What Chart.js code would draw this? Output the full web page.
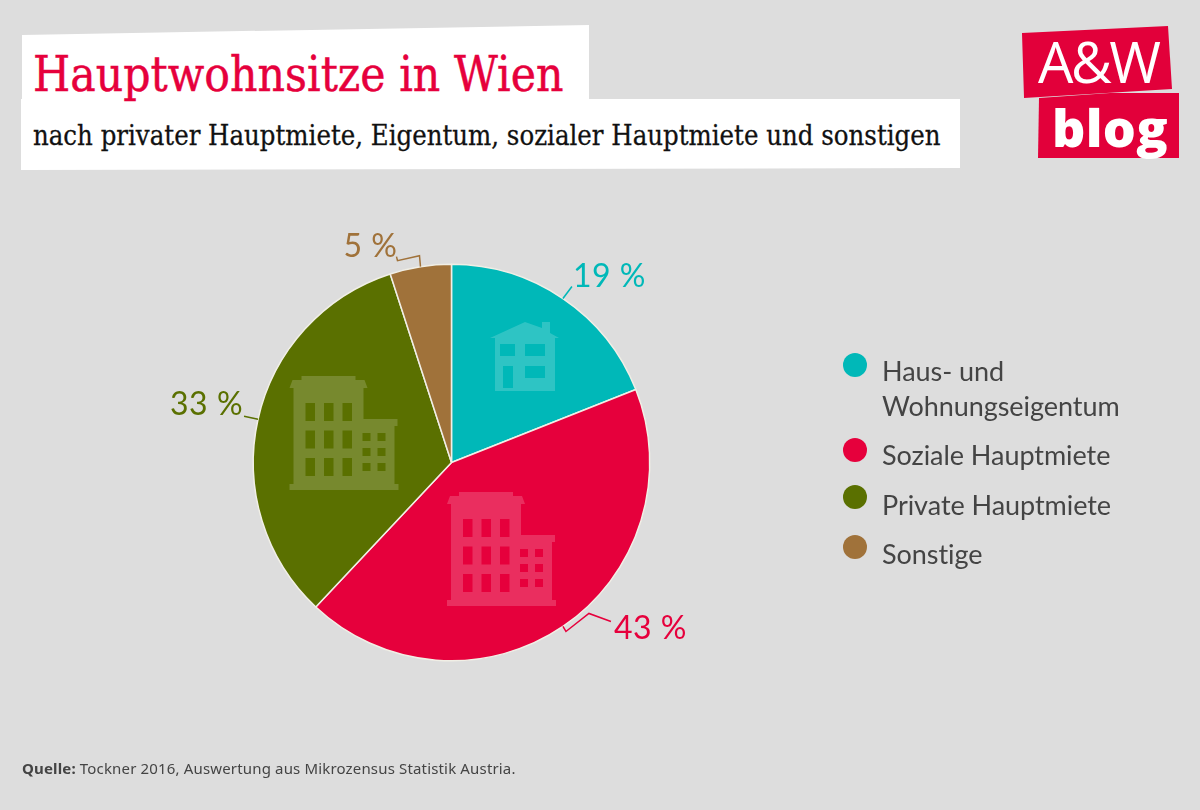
<!DOCTYPE html>
<html lang="de">
<head>
<meta charset="utf-8">
<title>Hauptwohnsitze in Wien</title>
<script src="https://cdn.jsdelivr.net/npm/chart.js@4/dist/chart.umd.min.js"></script>
<style>
  html, body { margin: 0; padding: 0; background: #dddddd; }
  #page { position: relative; width: 1200px; height: 810px; overflow: hidden; background: #dddddd; }
  #page > * { position: absolute; }
  canvas { left: 0; top: 0; }
  .box { background: #fff; }
  .title { white-space: nowrap; font-family: "DejaVu Serif", serif; transform-origin: 0 0; }
  #box1 { left: 0; top: 0; width: 600px; height: 110px; clip-path: polygon(22px 35px, 589px 25px, 589px 100px, 22px 100px); }
  #box2 { left: 0; top: 90px; width: 970px; height: 90px; clip-path: polygon(21px 9px, 960px 9px, 960px 78px, 21px 80px); }
  #title { left: 33px; top: 46px; font-size: 48px; color: #e6003c; transform: scaleX(0.89); -webkit-text-stroke: 0.5px #e6003c; }
  #subtitle { left: 33px; top: 120px; font-size: 27px; color: #111; transform: scaleX(0.907); -webkit-text-stroke: 0.3px #111; }
  .logo { background: #e2003a; }
  #logo1 { left: 1000px; top: 10px; width: 190px; height: 100px; clip-path: polygon(22px 23px, 168px 16px, 172px 79px, 24px 88px); }
  #logo2 { left: 1000px; top: 80px; width: 190px; height: 90px; clip-path: polygon(39px 18px, 110px 13px, 179px 13px, 179px 78px, 38px 78px); }
  .logotext { color: #fff; white-space: nowrap; font-family: "Open Sans", sans-serif; line-height: normal; }
  #logoA { left: 1038px; top: 23px; font-size: 56px; font-weight: 400; letter-spacing: -2.5px; }
  #logoB { left: 1052px; top: 91px; font-size: 52px; font-weight: 800; letter-spacing: 0.3px; }
  .lg-dot { width: 24px; height: 24px; border-radius: 50%; }
  .lg-text { left: 882px; font: 27px/35px "Lato", sans-serif; letter-spacing: -0.05px; color: #444; white-space: nowrap; }
  #source { left: 22px; top: 757px; font: 15px/22px "Noto Sans", sans-serif; letter-spacing: 0.16px; color: #444; white-space: nowrap; }
</style>
</head>
<body>
<div id="page">
  <div id="box1" class="box"></div>
  <div id="box2" class="box"></div>
  <div id="title" class="title">Hauptwohnsitze in Wien</div>
  <div id="subtitle" class="title">nach privater Hauptmiete, Eigentum, sozialer Hauptmiete und sonstigen</div>
  <div id="logo1" class="logo"></div>
  <div id="logo2" class="logo"></div>
  <div id="logoA" class="logotext">A&amp;W</div>
  <div id="logoB" class="logotext">blog</div>
  <canvas id="chart" width="1200" height="810"></canvas>
  <div id="source"><b>Quelle:</b> Tockner 2016, Auswertung aus Mikrozensus Statistik Austria.</div>
</div>
<script>
// Data
const categories = [["Haus- und", "Wohnungseigentum"], ["Soziale Hauptmiete"], ["Private Hauptmiete"], ["Sonstige"]];
const shares = [19, 43, 33, 5];
const colors = ["#00b8b8", "#e6003c", "#5a7000", "#a0723a"];

// Leader lines, relative to the point where each slice's mid angle meets the rim
const leaders = [
  [[9, -12]],
  [[3, 5], [26, -13], [48, -5]],
  [[-14, -3]],
  [[-1, -11], [-23, -6], [-24, -10]],
];
// Label baseline position, relative to the same point
const labelOffsets = [[10, -12], [51, 13], [-15, -4], [-23, -10]];
const labelAlign = ["left", "left", "right", "right"];

// Legend layout
const legendDotY = [365, 450, 497, 547];
const legendTextTop = [353, 437, 487, 536];

const iconFill = "rgba(255,255,255,0.18)";

function buildingPath(ctx, x, y) {
  const rect = (l, t, w, h) => ctx.rect(x + l, y + t, w, h);
  ctx.beginPath();
  ctx.moveTo(x + 12, y);
  ctx.lineTo(x + 66, y);
  ctx.lineTo(x + 66, y + 4);
  ctx.lineTo(x + 75, y + 4);
  ctx.lineTo(x + 78, y + 12);
  ctx.lineTo(x + 74, y + 12);
  ctx.lineTo(x + 74, y + 43);
  ctx.lineTo(x + 108, y + 43);
  ctx.lineTo(x + 108, y + 50);
  ctx.lineTo(x + 105, y + 50);
  ctx.lineTo(x + 105, y + 108);
  ctx.lineTo(x + 109, y + 108);
  ctx.lineTo(x + 109, y + 114);
  ctx.lineTo(x, y + 114);
  ctx.lineTo(x, y + 108);
  ctx.lineTo(x + 4, y + 108);
  ctx.lineTo(x + 4, y + 12);
  ctx.lineTo(x, y + 12);
  ctx.lineTo(x + 3, y + 4);
  ctx.lineTo(x + 12, y + 4);
  ctx.closePath();
  [16, 34.5, 53].forEach((l) => [27, 54.5, 82].forEach((t) => rect(l, t, 9.5, 18)));
  [73, 88].forEach((l) => [57, 72, 87].forEach((t) => rect(l, t, 8, 8)));
}

function housePath(ctx, x, y) {
  const rect = (l, t, w, h) => ctx.rect(x + l, y + t, w, h);
  ctx.beginPath();
  ctx.moveTo(x + 35, y);
  ctx.lineTo(x + 52, y + 6);
  ctx.lineTo(x + 52, y);
  ctx.lineTo(x + 60, y);
  ctx.lineTo(x + 60, y + 11);
  ctx.lineTo(x + 69, y + 16);
  ctx.lineTo(x + 65, y + 16);
  ctx.lineTo(x + 65, y + 69);
  ctx.lineTo(x + 5, y + 69);
  ctx.lineTo(x + 5, y + 16);
  ctx.lineTo(x, y + 16);
  ctx.closePath();
  rect(10, 22, 15, 12);
  rect(35, 22, 20, 12);
  rect(13, 44, 10, 22);
  rect(35, 44, 20, 12);
}

const overlayPlugin = {
  id: "overlay",
  afterDatasetsDraw(chart) {
    const ctx = chart.ctx;
    const arcs = chart.getDatasetMeta(0).data;
    ctx.save();

    // pictograms inside the slices
    ctx.fillStyle = iconFill;
    housePath(ctx, 490, 322);
    ctx.fill("evenodd");
    buildingPath(ctx, 447, 492);
    ctx.fill("evenodd");
    buildingPath(ctx, 289.5, 376);
    ctx.fill("evenodd");

    // leader lines and value labels
    arcs.forEach((arc, i) => {
      const mid = (arc.startAngle + arc.endAngle) / 2;
      const px = arc.x + Math.cos(mid) * arc.outerRadius;
      const py = arc.y + Math.sin(mid) * arc.outerRadius;
      ctx.strokeStyle = colors[i];
      ctx.lineWidth = 1.5;
      ctx.beginPath();
      ctx.moveTo(px, py);
      leaders[i].forEach((p) => ctx.lineTo(px + p[0], py + p[1]));
      ctx.stroke();

      ctx.fillStyle = colors[i];
      ctx.font = '400 32px "Lato", sans-serif';
      ctx.textAlign = labelAlign[i];
      ctx.textBaseline = "alphabetic";
      ctx.letterSpacing = "0.5px";
      ctx.fillText(shares[i] + " %", px + labelOffsets[i][0], py + labelOffsets[i][1]);
    });
    ctx.restore();
  },
};

new Chart(document.getElementById("chart"), {
  type: "pie",
  data: {
    labels: categories.map((c) => c.join(" ")),
    datasets: [{
      data: shares,
      backgroundColor: colors,
      borderColor: "#f1efe6",
      borderWidth: 1.5,
    }],
  },
  options: {
    responsive: false,
    animation: false,
    layout: { padding: { left: 252.5, right: 549.5, top: 263.5, bottom: 148.5 } },
    plugins: { legend: { display: false }, tooltip: { enabled: false } },
  },
  plugins: [overlayPlugin],
});

// Legend
const page = document.getElementById("page");
categories.forEach((lines, i) => {
  const dot = document.createElement("div");
  dot.className = "lg-dot";
  dot.style.left = "843px";
  dot.style.top = legendDotY[i] - 12 + "px";
  dot.style.background = colors[i];
  page.appendChild(dot);

  const text = document.createElement("div");
  text.className = "lg-text";
  text.style.top = legendTextTop[i] + "px";
  text.innerHTML = lines.join("<br>");
  page.appendChild(text);
});
</script>
</body>
</html>
